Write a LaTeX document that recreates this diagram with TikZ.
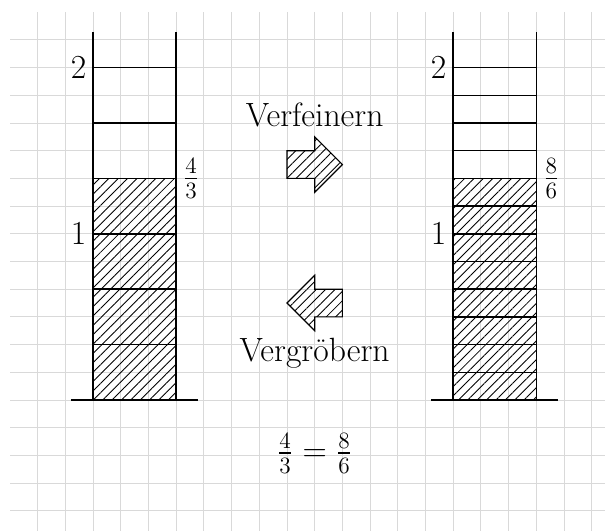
\documentclass[tikz,border=0pt]{standalone}
\usepackage{amsmath}
\usepackage{amssymb}
\usepackage{xcolor}
\usepackage{tikz}
\usetikzlibrary{patterns.meta}

\begin{document}
\begin{tikzpicture}[
		rail/.style={line width=0.75pt},
		hatch/.style={pattern={Lines[angle=45, distance=3.4pt, line width=0.45pt]}},
		txt/.style={font=\LARGE},
		pfeil/.style={hatch, semithick}
	]
			\useasboundingbox (-1.68,-2.36) rectangle (9.24,7.22);
			\draw[gray!30, line width=0.5pt, step=0.5] (-1.499,-2.36) grid (9.24,6.999);

			% linke Leiter: Drittel
			\coordinate (LA) at (0,0);
			\coordinate (LB) at (1.5,0);
			\coordinate (LC) at (1.5,6.65);
			\coordinate (LD) at (0,6.65);

			\fill[hatch] (LA) rectangle (1.5,4);
			\draw[rail] (-0.4,0) -- (1.9,0);
			\draw[rail] (LA) -- (LD);
			\draw[rail] (LB) -- (LC);
			\foreach \y in {1,...,6}{
				\draw[rail] (0,\y) -- (1.5,\y);
			}
			\node[txt, left] (l2) at (0,6) {2};
			\node[txt, left] (l1) at (0,3) {1};
			\node[txt, right] (lbruch) at (1.5,4) {$\frac{4}{3}$};

			% rechte Leiter: Sechstel
			\coordinate (RA) at (6.5,0);
			\coordinate (RB) at (8,0);
			\coordinate (RC) at (8,6.65);
			\coordinate (RD) at (6.5,6.65);

			\fill[hatch] (RA) rectangle (8,4);
			\draw[rail] (6.1,0) -- (8.4,0);
			\draw[rail] (RA) -- (RD);
			\draw[rail] (RB) -- (RC);
			\foreach \y in {0.5,1,...,6}{
				\draw[rail] (6.5,\y) -- (8,\y);
			}
			\node[txt, left] (r2) at (6.5,6) {2};
			\node[txt, left] (r1) at (6.5,3) {1};
			\node[txt, right] (rbruch) at (8,4) {$\frac{8}{6}$};

			% Pfeile
			\draw[pfeil] (3.5,4) -- (4,4) -- (4,3.75) -- (4.5,4.25) -- (4,4.75) -- (4,4.5) -- (3.5,4.5) -- cycle;
			\draw[pfeil] (4.5,1.5) -- (4,1.5) -- (4,1.25) -- (3.5,1.75) -- (4,2.25) -- (4,2) -- (4.5,2) -- cycle;
			\node[txt, anchor=base] (fein) at (4,4.93) {Verfeinern};
			\node[txt, anchor=base] (grob) at (4,0.69) {Vergröbern};

			\node[txt] (gleich) at (4,-0.96) {$\frac{4}{3} = \frac{8}{6}$};
		\end{tikzpicture}
\end{document}
